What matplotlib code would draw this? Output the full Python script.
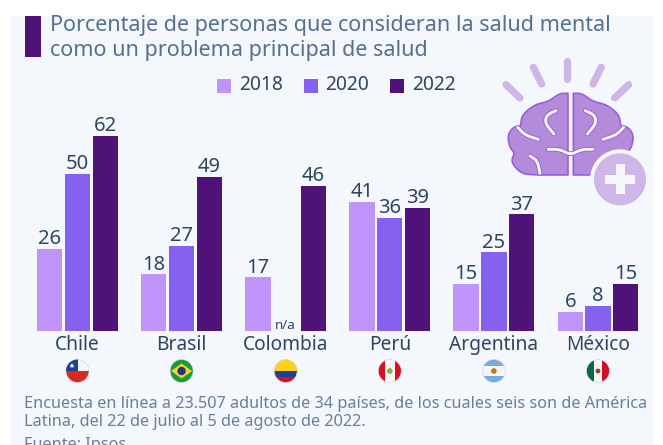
import matplotlib
matplotlib.use('Agg')
import matplotlib.pyplot as plt
from matplotlib.patches import Rectangle, Circle, Polygon
import numpy as np

plt.rcParams['font.family'] = ['Noto Sans', 'DejaVu Sans']

countries = ['Chile', 'Brasil', 'Colombia', 'Perú', 'Argentina', 'México']
years = ['2018', '2020', '2022']
v2018 = [26, 18, 17, 41, 15, 6]
v2020 = [50, 27, None, 36, 25, 8]
v2022 = [62, 49, 46, 39, 37, 15]
colors = ['#c194fc', '#8661ef', '#4e1278']

title = 'Porcentaje de personas que consideran la salud mental\ncomo un problema principal de salud'
note = ('Encuesta en línea a 23.507 adultos de 34 países, de los cuales seis son de América\n'
        'Latina, del 22 de julio al 5 de agosto de 2022.')
source = 'Fuente: Ipsos'

bg = '#f4f7fb'
dark = '#2f4660'
W, H = 663, 445

fig = plt.figure(figsize=(W / 100, H / 100), dpi=100, facecolor='white')

# full figure axes in pixels, for everything that is not a bar
px = fig.add_axes([0, 0, 1, 1])
px.set_xlim(0, W)
px.set_ylim(H, 0)
px.axis('off')
px.add_patch(Rectangle((10, 16), 644, 430, fc=bg, ec='none'))

# title block
px.add_patch(Rectangle((24.5, 16), 16, 41, fc='#4e1278', ec='none'))
px.text(49.5, 38, title, fontsize=15.5, color='#56708e', va='center', ha='left', linespacing=1.26)

# legend
for x, y_lab, c in zip([217, 303.5, 390], years, colors):
    px.add_patch(Rectangle((x, 78.5), 14, 14, fc=c, ec='none'))
    px.text(x + 22, 85, y_lab, fontsize=13.8, color=dark, va='center', ha='left')

# bars
ax = fig.add_axes([0, (H - 331) / H, 1, 195.3 / H], facecolor='none')
centers = (np.arange(len(countries)) * 104.1 + 77.5)
ax.set_xlim(0, W)
ax.set_ylim(0, 62)
ax.axis('off')
for i, (vals, c) in enumerate(zip([v2018, v2020, v2022], colors)):
    for x, v in zip(centers + (i - 1) * 27.8, vals):
        if v is None:
            ax.text(x, -0.3, 'n/a', fontsize=9.6, color=dark, ha='center', va='bottom')
            continue
        ax.bar(x, v, width=25.4, color=c)
        ax.text(x, v - 0.1, str(v), fontsize=14.5, color=dark, ha='center', va='bottom', clip_on=False)

for x, name in zip(centers, countries):
    px.text(x, 345, name, fontsize=13.8, color=dark, ha='center', va='center')


def flag(cx, stripes, horizontal=True, emblem=None, emblem_size=3):
    clip = Circle((cx, 371), 11.5, transform=px.transData)
    for c, f0, f1 in stripes:
        if horizontal:
            r = Rectangle((cx - 12, 359 + 24 * f0), 24, 24 * (f1 - f0), fc=c, ec='none')
        else:
            r = Rectangle((cx - 12 + 24 * f0, 359), 24 * (f1 - f0), 24, fc=c, ec='none')
        px.add_patch(r)
        r.set_clip_path(clip)
    if emblem:
        px.add_patch(Circle((cx, 371), emblem_size, fc=emblem, ec='none'))
    px.add_patch(Circle((cx, 371), 11.5, fc='none', ec='#d5d9df', lw=0.5))


fc = centers
# Chile
flag(fc[0], [('#f4f4f4', 0, 0.5), ('#d52b1e', 0.5, 1)])
r = Rectangle((fc[0] - 12, 359), 12, 12, fc='#1b3f94', ec='none')
px.add_patch(r)
r.set_clip_path(Circle((fc[0], 371), 11.5, transform=px.transData))
px.plot(fc[0] - 5.5, 365.5, marker='*', ms=4, color='white', mew=0)
# Brasil
flag(fc[1], [('#169b3e', 0, 1)])
px.add_patch(Polygon([(fc[1] - 10.5, 371), (fc[1], 363.5), (fc[1] + 10.5, 371), (fc[1], 378.5)], fc='#f5d327', ec='none'))
px.add_patch(Circle((fc[1], 371), 4.2, fc='#27357f', ec='none'))
# Colombia
flag(fc[2], [('#fcd116', 0, 0.5), ('#1f3f94', 0.5, 0.75), ('#ce1126', 0.75, 1)])
# Perú
flag(fc[3], [('#d91023', 0, 0.28), ('#f6f6f6', 0.28, 0.72), ('#d91023', 0.72, 1)], horizontal=False,
     emblem='#8fae3f', emblem_size=2.8)
# Argentina
flag(fc[4], [('#74acdf', 0, 0.3), ('#f6f6f6', 0.3, 0.7), ('#74acdf', 0.7, 1)], emblem='#c9741c', emblem_size=2.8)
# México
flag(fc[5], [('#0b6847', 0, 0.33), ('#f6f6f6', 0.33, 0.67), ('#ce1126', 0.67, 1)], horizontal=False,
     emblem='#7a4a22', emblem_size=2.4)

# footer
px.text(24.5, 413, note, fontsize=11.7, color='#66809b', va='center', ha='left', linespacing=1.19)
px.text(24.5, 445, source, fontsize=11.7, color='#66809b', va='center', ha='left', clip_on=True)


# brain icon, traced in the zoomed crop and mapped back to pixels
def z(x, y):
    return 480 + x / 3, 40 + y / 3


def smooth(pts, closed=False, rounds=3):
    # corner cutting so the traced outlines do not look like polygons
    pts = np.array(pts, dtype=float)
    for _ in range(rounds):
        nxt = np.roll(pts, -1, axis=0)
        q, r_ = 0.75 * pts + 0.25 * nxt, 0.25 * pts + 0.75 * nxt
        both = np.empty((len(pts) * 2, 2))
        both[0::2], both[1::2] = q, r_
        pts = both if closed else np.vstack([pts[0], both[:-2], pts[-1]])
    return pts


ray = '#cfb6e8'
for a, b in [((262, 62), (262, 116)), ((160, 82), (185, 132)), ((78, 134), (120, 174)),
             ((364, 82), (339, 132)), ((446, 134), (404, 174))]:
    p0, p1 = z(*a), z(*b)
    px.plot([p0[0], p1[0]], [p0[1], p1[1]], color=ray, lw=5.2, solid_capstyle='round')

# the flat edges of the lobe are repeated so that smoothing leaves them square
lobe = [(264, 160), (264, 160), (238, 160), (205, 185), (165, 193), (125, 225), (122, 262), (103, 258), (82, 285),
        (90, 325), (105, 338), (92, 365), (120, 398), (150, 405), (264, 405), (264, 405)]
lobe_px = np.array([z(*q) for q in smooth(lobe, closed=True)])
px.add_patch(Polygon(lobe_px, closed=True, fc='#b48ada', ec='#9a5fdc', lw=1.2, joinstyle='round'))
mirror = np.array([z(544 - q[0], q[1]) for q in smooth(lobe, closed=True)])
px.add_patch(Polygon(mirror, closed=True, fc='#b48ada', ec='#9a5fdc', lw=1.2, joinstyle='round'))

folds = [
    [(228, 212), (200, 225), (195, 250), (222, 282)],
    [(113, 262), (135, 285), (175, 298)],
    [(150, 348), (172, 362), (180, 400)],
    [(205, 328), (240, 328), (272, 345), (304, 328), (339, 328)],
    [(316, 212), (344, 225), (349, 250), (322, 282)],
    [(431, 262), (409, 285), (369, 298)],
]
for f in folds:
    pts = np.array([z(*q) for q in smooth(f)])
    px.plot(pts[:, 0], pts[:, 1], color='#9a5fdc', lw=3.4, solid_capstyle='round')
    px.plot(pts[:, 0], pts[:, 1], color=bg, lw=2.1, solid_capstyle='round')

# plus badge
cx, cy = z(420, 418)
px.add_patch(Circle((cx, cy), 30, fc=bg, ec='none'))
px.add_patch(Circle((cx, cy), 26, fc=ray, ec='none'))
px.add_patch(Rectangle((cx - 15, cy - 4.5), 30, 9, fc=bg, ec='none'))
px.add_patch(Rectangle((cx - 4.5, cy - 15), 9, 30, fc=bg, ec='none'))

fig.savefig('out.png', dpi=100)
